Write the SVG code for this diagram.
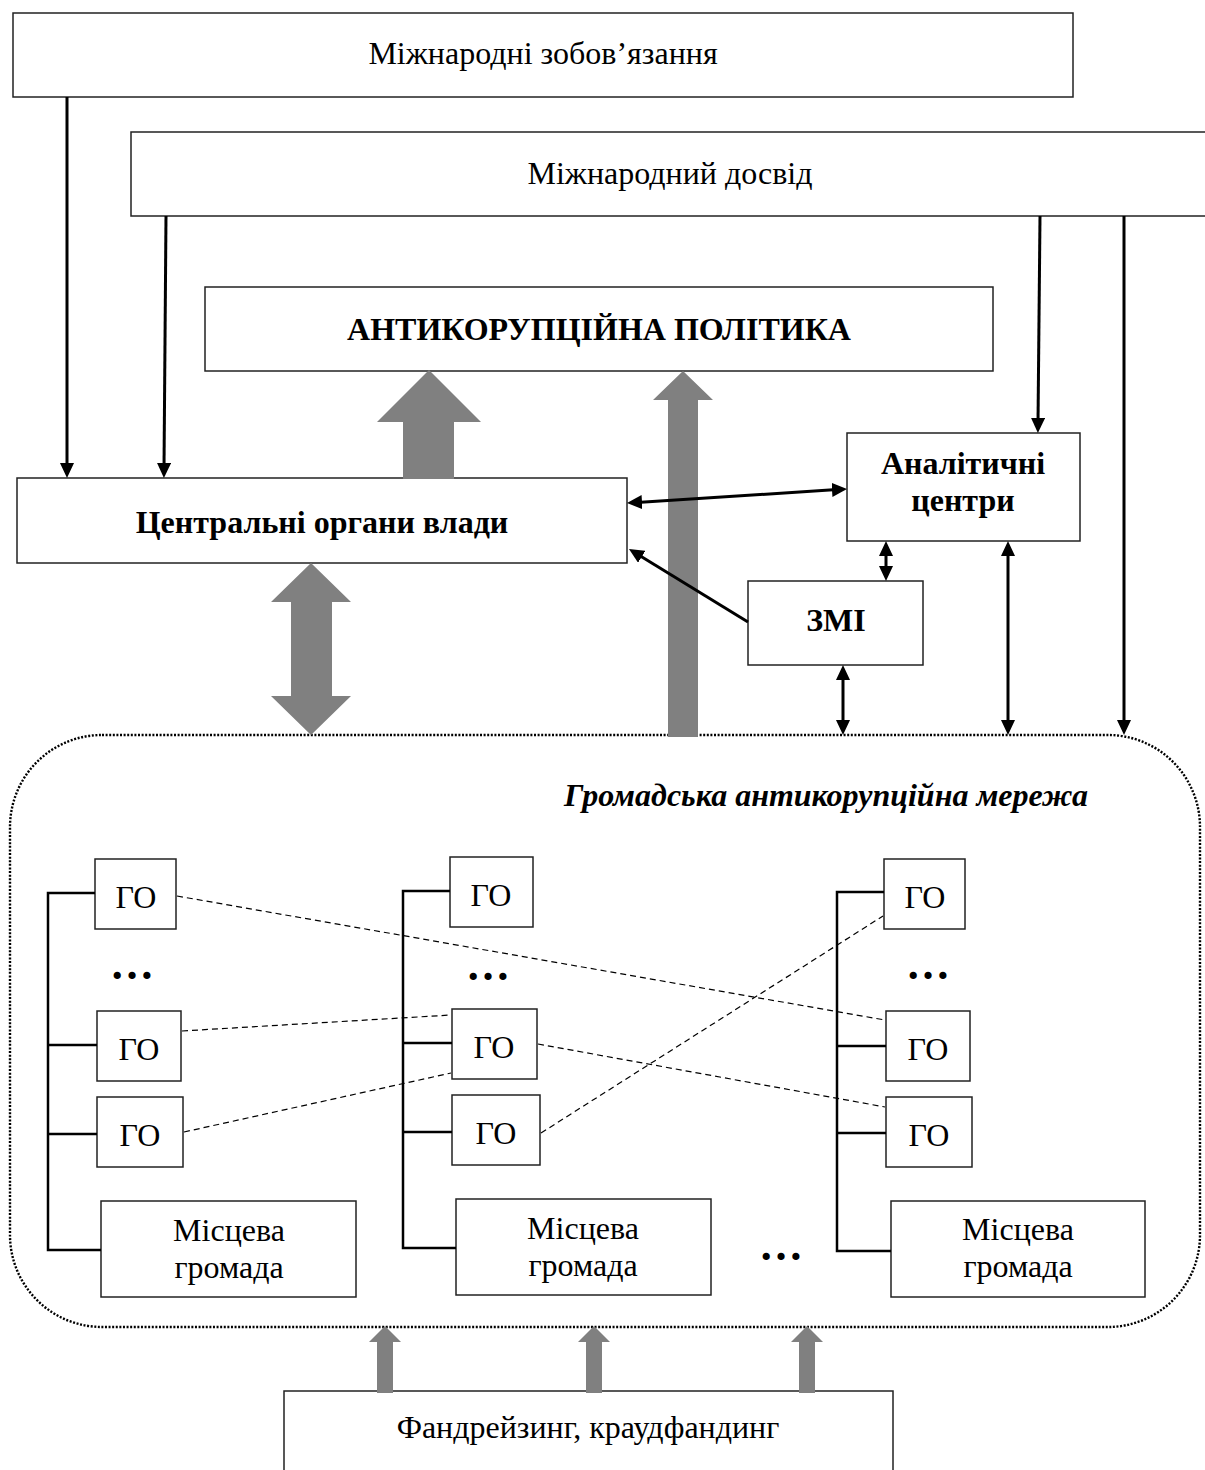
<svg xmlns="http://www.w3.org/2000/svg" width="1205" height="1470" viewBox="0 0 1205 1470">
<style>
.box{fill:#fff;stroke:#222;stroke-width:1.5}
.t{font-family:"Liberation Serif","Times New Roman",serif;font-size:32px;fill:#000;text-anchor:middle}
.b{font-weight:bold}
.arr{stroke:#000;stroke-width:3;fill:none;marker-end:url(#ah)}
.dbl{marker-start:url(#ah)}
.gray{fill:#808080}
.br{stroke:#000;stroke-width:2.5;fill:none}
.dash{stroke:#000;stroke-width:1.2;stroke-dasharray:6 4;fill:none}
.dots{font-family:"Liberation Serif","Times New Roman",serif;font-size:44px;font-weight:bold;text-anchor:middle}
</style>
<defs>
<marker id="ah" markerUnits="userSpaceOnUse" viewBox="0 0 15 14" markerWidth="15" markerHeight="14" refX="5" refY="7" orient="auto-start-reverse">
<path d="M0,0 L15,7 L0,14 z" fill="#000"/>
</marker>
<path id="smallUp" d="M-8,67 V16 H-16 L0,0 L16,16 H8 V67 z"/>
</defs>
<rect width="1205" height="1470" fill="#fff"/>

<g id="network">
<rect x="10" y="735" width="1190" height="592" rx="92" ry="92" fill="none" stroke="#000" stroke-width="2.4" stroke-dasharray="2 1.6"/>
<text class="t b" x="1088" y="806" font-style="italic" font-size="33" style="text-anchor:end">Громадська антикорупційна мережа</text>
</g>

<g id="intl-obligations"><rect class="box" x="13" y="13" width="1060" height="84"/><text class="t" x="543" y="64">Міжнародні зобов’язання</text></g>
<g id="intl-experience"><rect class="box" x="131" y="132" width="1100" height="84"/><text class="t" x="670" y="184">Міжнародний досвід</text></g>
<g id="policy"><rect class="box" x="205" y="287" width="788" height="84"/><text class="t b" x="599" y="340">АНТИКОРУПЦІЙНА ПОЛІТИКА</text></g>
<g id="central"><rect class="box" x="17" y="478" width="610" height="85"/><text class="t b" x="322" y="533">Центральні органи влади</text></g>
<g id="analytics"><rect class="box" x="847" y="433" width="233" height="108"/><text class="t b" x="963" y="474">Аналітичні</text><text class="t b" x="963" y="511">центри</text></g>
<g id="media"><rect class="box" x="748" y="581" width="175" height="84"/><text class="t b" x="836" y="631">ЗМІ</text></g>
<g id="funding"><rect class="box" x="284" y="1391" width="609" height="120"/><text class="t" x="588" y="1438">Фандрейзинг, краудфандинг</text></g>

<g id="col1">
<g id="go1a"><rect class="box" x="95" y="859" width="81" height="70"/><text class="t" x="136" y="908">ГО</text></g>
<text class="dots" x="132" y="979">…</text>
<g id="go1b"><rect class="box" x="97" y="1011" width="84" height="70"/><text class="t" x="139" y="1060">ГО</text></g>
<g id="go1c"><rect class="box" x="97" y="1097" width="86" height="70"/><text class="t" x="140" y="1146">ГО</text></g>
<g id="mg1"><rect class="box" x="101" y="1201" width="255" height="96"/><text class="t" x="229" y="1241">Місцева</text><text class="t" x="229" y="1278">громада</text></g>
</g>
<g id="col2">
<g id="go2a"><rect class="box" x="450" y="857" width="83" height="70"/><text class="t" x="491" y="906">ГО</text></g>
<text class="dots" x="488" y="980">…</text>
<g id="go2b"><rect class="box" x="452" y="1009" width="85" height="70"/><text class="t" x="494" y="1058">ГО</text></g>
<g id="go2c"><rect class="box" x="452" y="1095" width="88" height="70"/><text class="t" x="496" y="1144">ГО</text></g>
<g id="mg2"><rect class="box" x="456" y="1199" width="255" height="96"/><text class="t" x="583" y="1239">Місцева</text><text class="t" x="583" y="1276">громада</text></g>
</g>
<g id="col3">
<g id="go3a"><rect class="box" x="884" y="859" width="81" height="70"/><text class="t" x="925" y="908">ГО</text></g>
<text class="dots" x="928" y="979">…</text>
<g id="go3b"><rect class="box" x="886" y="1011" width="84" height="70"/><text class="t" x="928" y="1060">ГО</text></g>
<g id="go3c"><rect class="box" x="886" y="1097" width="86" height="70"/><text class="t" x="929" y="1146">ГО</text></g>
<g id="mg3"><rect class="box" x="891" y="1201" width="254" height="96"/><text class="t" x="1018" y="1240">Місцева</text><text class="t" x="1018" y="1277">громада</text></g>
</g>
<text class="dots" x="781" y="1260">…</text>

<g id="connectors">
<polygon class="gray" points="403,479 403,422 377,422 429,370 481,422 454,422 454,479"/>
<polygon class="gray" points="668,737 668,400 653,400 683,371 713,400 698,400 698,737"/>
<polygon class="gray" points="311,563 351,602 332,602 332,696 351,696 311,735 271,696 291,696 291,602 271,602"/>
<use href="#smallUp" x="385" y="1326" class="gray"/>
<use href="#smallUp" x="594" y="1326" class="gray"/>
<use href="#smallUp" x="807" y="1326" class="gray"/>

<line class="arr" x1="67" y1="97" x2="67" y2="468"/>
<line class="arr" x1="166" y1="216" x2="164" y2="468"/>
<line class="arr" x1="1040" y1="216" x2="1038" y2="423"/>
<line class="arr" x1="1124" y1="216" x2="1124" y2="725"/>
<line class="arr dbl" x1="637" y1="502.4" x2="837" y2="489.6"/>
<line class="arr" x1="748" y1="622" x2="637.5" y2="554.2"/>
<line class="arr dbl" x1="886" y1="551" x2="886" y2="571"/>
<line class="arr dbl" x1="843" y1="675" x2="843" y2="725"/>
<line class="arr dbl" x1="1008" y1="551" x2="1008" y2="725"/>

<path class="br" d="M95,893 H48 V1250 H101 M48,1045 H97 M48,1134 H97"/>
<path class="br" d="M450,891 H403 V1248 H456 M403,1043 H452 M403,1132 H452"/>
<path class="br" d="M884,892 H837 V1251 H891 M837,1046 H886 M837,1133 H886"/>

<line class="dash" x1="177" y1="896" x2="885" y2="1020"/>
<line class="dash" x1="182" y1="1031" x2="451" y2="1015"/>
<line class="dash" x1="184" y1="1132" x2="451" y2="1073"/>
<line class="dash" x1="538" y1="1044" x2="885" y2="1107"/>
<line class="dash" x1="541" y1="1133" x2="883" y2="916"/>
</g>
</svg>
